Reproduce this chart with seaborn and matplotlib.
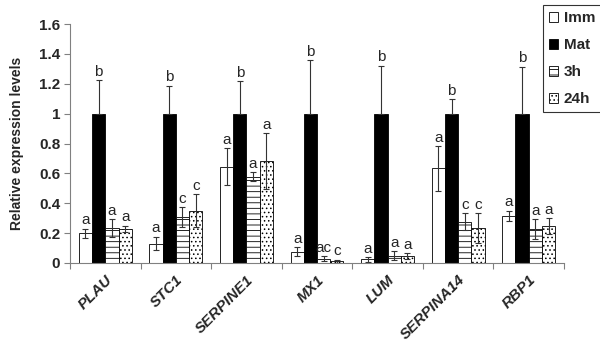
import matplotlib
matplotlib.use("Agg")
import matplotlib.pyplot as plt
import numpy as np
import pandas as pd
import seaborn as sns

# 基因与处理组
genes = ["PLAU", "STC1", "SERPINE1", "MX1", "LUM", "SERPINA14", "RBP1"]
groups = ["Imm", "Mat", "3h", "24h"]

# 相对表达量
imm = [0.20, 0.13, 0.645, 0.074, 0.025, 0.634, 0.315]
mat = [1.0, 1.0, 1.0, 1.0, 1.0, 1.0, 1.0]
h3 = [0.232, 0.306, 0.578, 0.030, 0.050, 0.277, 0.228]
h24 = [0.228, 0.350, 0.683, 0.012, 0.047, 0.232, 0.248]

# 误差
imm_err = [0.03, 0.045, 0.123, 0.03, 0.015, 0.15, 0.035]
mat_err = [0.222, 0.187, 0.218, 0.359, 0.32, 0.098, 0.314]
h3_err = [0.06, 0.067, 0.03, 0.015, 0.03, 0.056, 0.065]
h24_err = [0.022, 0.112, 0.185, 0.01, 0.02, 0.10, 0.052]

# 显著性字母
imm_sig = ["a", "a", "a", "a", "a", "a", "a"]
mat_sig = ["b", "b", "b", "b", "b", "b", "b"]
h3_sig = ["a", "c", "a", "ac", "a", "c", "a"]
h24_sig = ["a", "c", "a", "c", "a", "c", "a"]

yticks = [0, 0.2, 0.4, 0.6, 0.8, 1.0, 1.2, 1.4, 1.6]
ytick_labels = ["0", "0.2", "0.4", "0.6", "0.8", "1", "1.2", "1.4", "1.6"]

values = [imm, mat, h3, h24]
errors = [imm_err, mat_err, h3_err, h24_err]
sigs = [imm_sig, mat_sig, h3_sig, h24_sig]

df = pd.DataFrame({
    "gene": genes * 4,
    "group": [g for g in groups for _ in genes],
    "value": imm + mat + h3 + h24,
})

sns.set_theme(style="white")
plt.rcParams["font.family"] = ["Liberation Sans", "DejaVu Sans"]
plt.rcParams["hatch.linewidth"] = 0.6

fig = plt.figure(figsize=(6, 3.5), dpi=100)
ax = fig.add_axes([70 / 600, 1 - 263 / 350, (564 - 70) / 600, (263 - 24) / 350])

palette = {"Imm": "white", "Mat": "black", "3h": "white", "24h": "white"}
sns.barplot(data=df, x="gene", y="value", hue="group", order=genes, hue_order=groups,
            palette=palette, width=0.75, edgecolor="black", linewidth=0.6,
            errorbar=None, legend=False, ax=ax, saturation=1)

hatches = [None, None, "---", "...."]
for cont, group, hatch, err, sig in zip(ax.containers, groups, hatches, errors, sigs):
    xs = []
    ys = []
    for bar in cont:
        if hatch:
            bar.set_hatch(hatch)
        xs.append(bar.get_x() + bar.get_width() / 2)
        ys.append(bar.get_height())
    # 黑色柱子只显示上半部分误差线
    if group == "Mat":
        yerr = [np.zeros(len(err)), err]
    else:
        yerr = err
    ax.errorbar(xs, ys, yerr=yerr, fmt="none", ecolor="#333333", elinewidth=0.8,
                capsize=2.2, capthick=0.8)
    for x, y, e, s in zip(xs, ys, err, sig):
        ax.annotate(s, (x, y + e), xytext=(0, 1), textcoords="offset points",
                    ha="center", va="bottom", fontsize=11)

ax.set_xlim(-0.5, len(genes) - 0.5)
ax.set_ylim(0, 1.6)
ax.set_yticks(yticks)
ax.set_yticklabels(ytick_labels, fontsize=11, fontweight="bold")

# 主刻度在组之间，标签放在次刻度上
ax.set_xticks(np.arange(-0.5, len(genes)))
ax.set_xticklabels([])
ax.set_xticks(np.arange(len(genes)), minor=True)
ax.set_xticklabels(genes, minor=True, rotation=45, ha="right", rotation_mode="anchor",
                   fontsize=11, fontweight="bold", fontstyle="italic")
ax.tick_params(axis="x", which="minor", length=0, pad=7)
ax.tick_params(axis="x", which="major", length=4, width=0.8, color="#808080", direction="out", bottom=True)
ax.tick_params(axis="y", length=4, width=0.8, color="#808080", direction="out", left=True, pad=3)

ax.set_xlabel("")
ax.set_ylabel("Relative expression levels", fontsize=10, fontweight="bold")
ax.yaxis.set_label_coords(-0.093, 0.5)

sns.despine(ax=ax)
for side in ["left", "bottom"]:
    ax.spines[side].set_color("#808080")
    ax.spines[side].set_linewidth(0.8)

leg = ax.legend(ax.containers, groups, loc="upper left",
                bbox_to_anchor=(543 / 600, 1 - 5 / 350), bbox_transform=fig.transFigure,
                prop={"weight": "bold", "size": 11}, frameon=True, fancybox=False,
                handlelength=0.6, handleheight=0.6, handletextpad=0.35,
                labelspacing=0.85, borderpad=0.4, borderaxespad=0)
leg.get_frame().set_edgecolor("black")
leg.get_frame().set_linewidth(0.8)

fig.savefig("out.png", dpi=100)
